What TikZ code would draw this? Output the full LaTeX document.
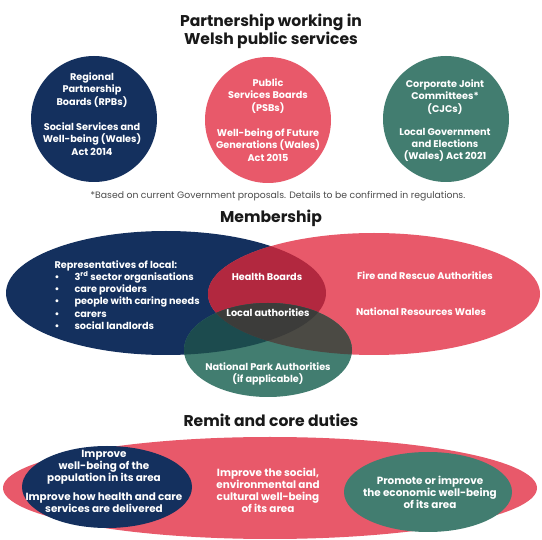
\documentclass[tikz,border=0pt]{standalone}
\usepackage{fontspec}
\setmainfont{Poppins}
\definecolor{navy}{HTML}{14305E}
\definecolor{rose}{HTML}{E8596A}
\definecolor{sea}{HTML}{427D70}
\definecolor{crimson}{HTML}{B2283F}
\definecolor{deepsea}{HTML}{1C4B4E}
\definecolor{slate}{HTML}{4B4A44}
\definecolor{coal}{HTML}{3C3C3A}

\begin{document}
\begin{tikzpicture}[x=1pt,y=-1pt,
    head/.style={font=\bfseries\fontsize{15.6}{18}\selectfont,text=black!90,align=center},
    txt/.style={font=\bfseries\fontsize{9.7}{12.2}\selectfont,text=white,align=center},
    duty/.style={font=\bfseries\fontsize{10.4}{12}\selectfont,text=white,align=center}]
\useasboundingbox[fill=white] (0,0) rectangle (542,540);

% titles
\node[head] (title) at (271,31) {Partnership working in\\Welsh public services};
\node[head] (member) at (271,218) {Membership};
\node[head] (remit) at (271,420) {Remit and core duties};
\node[font=\fontsize{9.3}{10}\selectfont,text=black!70] (note) at (278,196)
  {*Based on current Government proposals. Details to be confirmed in regulations.};

% the three bodies
\fill[navy](94,119) circle (63);
\fill[rose](268,120) circle (63);
\fill[sea](446,119) circle (63);
\node[txt] (rpb) at (92,90) {Regional\\Partnership\\Boards (RPBs)};
\node[txt] (rpbact) at (92,139) {Social Services and\\Well-being (Wales)\\Act 2014};
\node[txt] (psb) at (268,96) {Public\\Services Boards\\(PSBs)};
\node[txt] (psbact) at (268,145) {Well-being of Future\\Generations (Wales)\\Act 2015};
\node[txt] (cjc) at (445,97) {Corporate Joint\\Committees*\\(CJCs)};
\node[txt] (cjcact) at (445,145) {Local Government\\and Elections\\(Wales) Act 2021};

% membership venn
\coordinate(N) at (166,293);
\coordinate(P) at (374,294);
\coordinate(G) at (268,350);
\fill[navy](N) ellipse [x radius=160, y radius=62];
\fill[rose](P) ellipse [x radius=166, y radius=61];
\begin{scope}
  \clip(N) ellipse [x radius=160, y radius=62];
  \fill[crimson](P) ellipse [x radius=166, y radius=61];
\end{scope}
\fill[sea](G) ellipse [x radius=84, y radius=47];
\begin{scope}
  \clip(G) ellipse [x radius=84, y radius=47];
  \fill[deepsea](N) ellipse [x radius=160, y radius=62];
  \fill[slate](P) ellipse [x radius=166, y radius=61];
  \clip(N) ellipse [x radius=160, y radius=62];
  \fill[coal](P) ellipse [x radius=166, y radius=61];
\end{scope}

\node[txt,align=left,anchor=north west] (reps) at (51,257)
  {Representatives of local:\\
   \makebox[20pt][l]{\textbullet}3\textsuperscript{rd} sector organisations\\
   \makebox[20pt][l]{\textbullet}care providers\\
   \makebox[20pt][l]{\textbullet}people with caring needs\\
   \makebox[20pt][l]{\textbullet}carers\\
   \makebox[20pt][l]{\textbullet}social landlords};
\node[txt] (health) at (267,277) {Health Boards};
\node[txt] (local) at (268,313) {Local authorities};
\node[txt] (fire) at (425,276) {Fire and Rescue Authorities};
\node[txt] (nrw) at (421,312) {National Resources Wales};
\node[txt] (park) at (268,374) {National Park Authorities\\(if applicable)};

% remit
\fill[rose](270,488) ellipse [x radius=267, y radius=51];
\fill[navy](107,487) ellipse [x radius=85, y radius=41];
\fill[sea](428,492) ellipse [x radius=84, y radius=40];
\node[duty] (pop) at (104,467) {Improve\\well-being of the\\population in its area};
\node[duty] (care) at (104,503) {Improve how health and care\\services are delivered};
\node[duty] (social) at (268,490) {Improve the social,\\environmental and\\cultural well-being\\of its area};
\node[duty] (econ) at (430,492) {Promote or improve\\the economic well-being\\of its area};
\end{tikzpicture}
\end{document}
